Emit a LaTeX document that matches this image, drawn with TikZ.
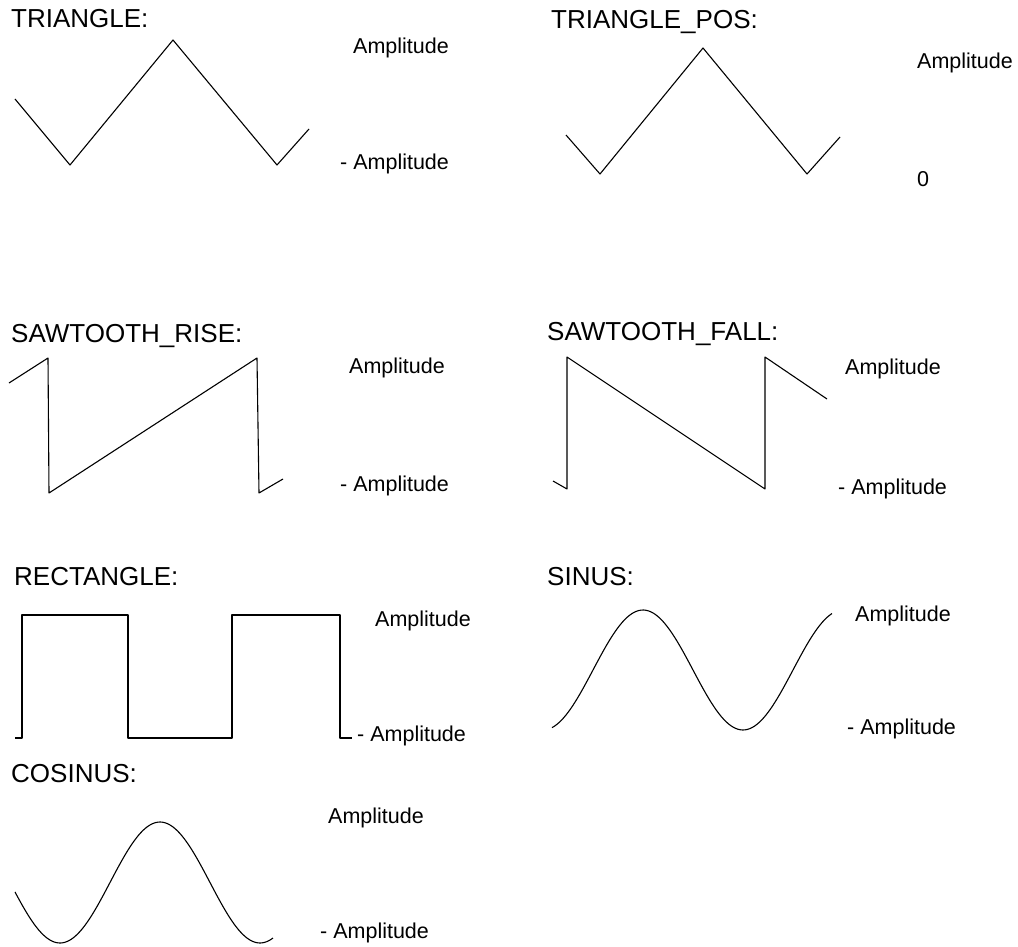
\documentclass[tikz,border=0pt]{standalone}
\usepackage{fontspec}
\setmainfont{Liberation Sans}
\begin{document}
\begin{tikzpicture}[x=1pt,y=-1pt,
  ttl/.style={font=\fontsize{26}{30}\selectfont, anchor=base west, inner sep=0pt},
  amp/.style={font=\fontsize{21.5}{25}\selectfont, anchor=base west, inner sep=0pt},
  wave/.style={line width=1.1pt, line join=round, black}]
\useasboundingbox[fill=white] (0,0) rectangle (1018,947);

% TRIANGLE
\node[ttl] (t1) at (11,28) {TRIANGLE:};
\node[amp] (t1a) at (353,54) {Amplitude};
\node[amp] (t1b) at (340,170) {- Amplitude};
\draw[wave] (15,99) -- (70,165) -- (173,40) -- (277,165) -- (309,129);

% TRIANGLE_POS
\node[ttl] (t2) at (551,29) {TRIANGLE\_POS:};
\node[amp] (t2a) at (917,69) {Amplitude};
\node[amp] (t2b) at (917,186) {0};
\draw[wave] (566,135) -- (600,174) -- (703,48) -- (807,174) -- (840,137);

% SAWTOOTH_RISE
\node[ttl] (t3) at (11,342) {SAWTOOTH\_RISE:};
\node[amp] (t3a) at (349,373) {Amplitude};
\node[amp] (t3b) at (340,491) {- Amplitude};
\draw[wave] (9,383) -- (48,358) -- (49,493) -- (257,358) -- (259,493) -- (283,479);

% SAWTOOTH_FALL
\node[ttl] (t4) at (547,340) {SAWTOOTH\_FALL:};
\node[amp] (t4a) at (845,374) {Amplitude};
\node[amp] (t4b) at (838,494) {- Amplitude};
\draw[wave] (553,481) -- (567,489) -- (567,357) -- (765,489) -- (765,357) -- (827,399);

% RECTANGLE
\node[ttl] (t5) at (14,585) {RECTANGLE:};
\node[amp] (t5a) at (375,626) {Amplitude};
\node[amp] (t5b) at (357,741) {- Amplitude};
\draw[wave] (15,738) -- (22,738) -- (22,615) -- (128,615) -- (128,738) -- (232,738) -- (232,615) -- (340,615) -- (340,738) -- (352,738);

% SINUS
\node[ttl] (t6) at (547,585) {SINUS:};
\node[amp] (t6a) at (855,621) {Amplitude};
\node[amp] (t6b) at (847,734) {- Amplitude};
\draw[wave] plot[domain=552:832, samples=120, smooth] (\x,{670-60*sin((\x-593)*1.8)});

% COSINUS
\node[ttl] (t7) at (11,782) {COSINUS:};
\node[amp] (t7a) at (328,823) {Amplitude};
\node[amp] (t7b) at (320,938) {- Amplitude};
\draw[wave] plot[domain=15:273, samples=120, smooth] (\x,{882.5-60.5*cos((\x-160)*1.8)});
\end{tikzpicture}
\end{document}
